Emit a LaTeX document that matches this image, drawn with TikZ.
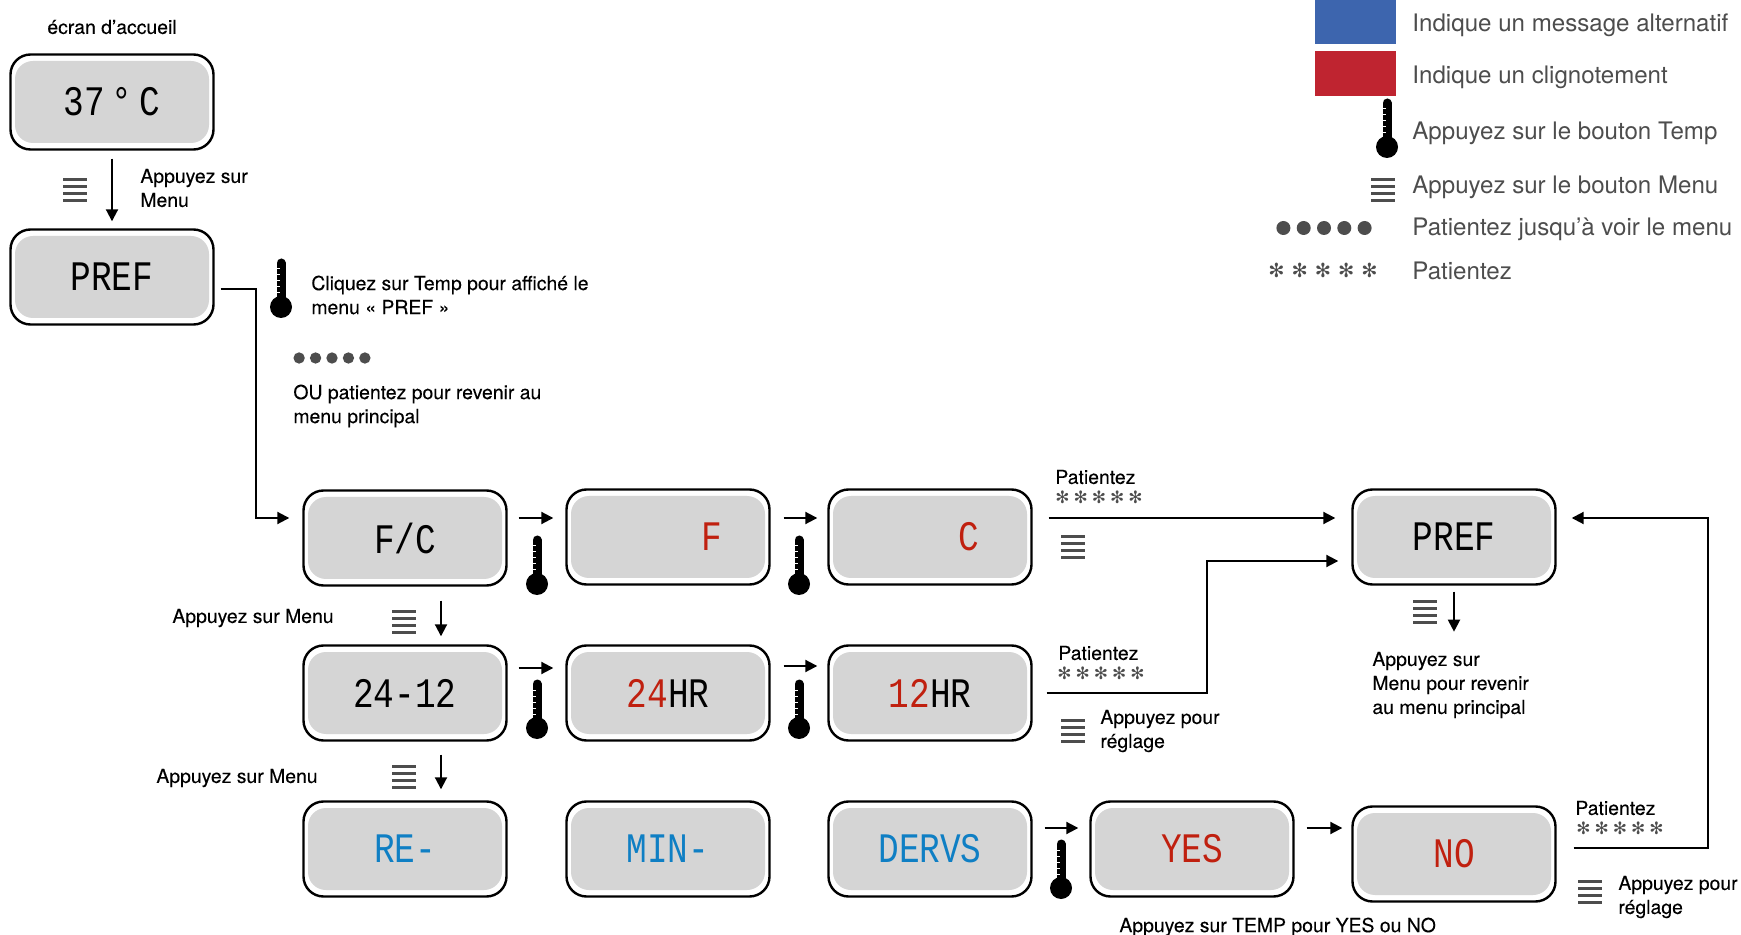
\documentclass[tikz,border=0pt]{standalone}
\usepackage{fontspec}
\setmainfont{TeX Gyre Heros}
\newfontfamily\notefont[FakeBold=0.12]{TeX Gyre Heros}
\newfontfamily\lcdfont[FakeStretch=0.82]{Liberation Mono}
\newfontfamily\dingfont{DejaVu Sans}
\usetikzlibrary{arrows.meta, positioning}
\definecolor{lcdgray}{HTML}{D5D5D5}
\definecolor{lcdred}{HTML}{C0200F}
\definecolor{lcdblue}{HTML}{0F7FC4}
\definecolor{keygray}{HTML}{4D4D4D}
\definecolor{altblue}{HTML}{3D65AE}
\definecolor{altred}{HTML}{BF2430}
\newcommand{\starrow}[1]{✻\kern#1✻\kern#1✻\kern#1✻\kern#1✻}

\tikzset{
	lcd/.style={draw=black, line width=1.2pt, fill=white, rounded corners=10pt, minimum width=101.5pt, minimum height=47.5pt, inner sep=0pt},
	screen/.style={fill=lcdgray, rounded corners=9pt, minimum width=97pt, minimum height=41pt, inner sep=0pt, font=\lcdfont\fontsize{21}{21}\selectfont},
	flow/.style={line width=1pt, -{Triangle[length=6pt, width=6pt]}},
	note/.style={anchor=west, align=left, inner sep=0pt, font=\notefont\fontsize{9.7}{12}\selectfont},
	keytext/.style={anchor=west, inner sep=0pt, text=keygray, font=\fontsize{12.05}{12}\selectfont},
	stars/.style={inner sep=0pt, text=keygray, font=\dingfont\fontsize{8.5}{8.5}\selectfont},
	thermo/.pic={
		\fill[black] (0,0) circle (11);
		\draw[black, line width=4.5pt, line cap=round] (0,0) -- (0,-44);
		\draw[white, line width=.5pt] (-4.5,-38) -- ++(3,0) (-4.5,-32) -- ++(3,0) (-4.5,-26) -- ++(3,0) (-4.5,-20) -- ++(3,0) (-4.5,-14) -- ++(3,0);
	},
	menukey/.pic={
		\draw[keygray, line width=1.5pt] (-12,-10.5) -- (12,-10.5) (-12,-3.5) -- (12,-3.5) (-12,3.5) -- (12,3.5) (-12,10.5) -- (12,10.5);
	},
	dots/.pic={
		\fill[keygray] (-40.6,0) circle (7) (-20.3,0) circle (7) (0,0) circle (7) (20.3,0) circle (7) (40.6,0) circle (7);
	},
}

\begin{document}
\begin{tikzpicture}[x=0.5pt, y=-0.5pt]
	\useasboundingbox (0,0) rectangle (1741,935);
	
	% légende
	\fill[altblue] (1315,0) rectangle (1396,44);
	\fill[altred] (1315,51) rectangle (1396,96);
	\pic (keytemp) at (1387,147) {thermo};
	\pic (keymenu) at (1383,190) {menukey};
	\pic (keydots) at (1324,228) {dots};
	\node[stars, font=\dingfont\fontsize{9.7}{9.7}\selectfont] (keystars) at (1323,270) {\starrow{3.5pt}};
	\node[keytext] (k1) at (1412,25) {Indique un message alternatif};
	\node[keytext] (k2) at (1412,77) {Indique un clignotement};
	\node[keytext] (k3) at (1412,133) {Appuyez sur le bouton Temp};
	\node[keytext] (k4) at (1412,187) {Appuyez sur le bouton Menu};
	\node[keytext] (k5) at (1412,229) {Patientez jusqu’à voir le menu};
	\node[keytext] (k6) at (1412,271) {Patientez};
	
	% écrans
	\node[lcd, label={[screen]center:{37\,°\,C}}] (home) at (112,102) {};
	\node[lcd, label={[screen]center:{PREF}}] (pref) at (112,277) {};
	\node[lcd, label={[screen]center:{F/C}}] (fc) at (405,538) {};
	\node[lcd, label={[screen, text=lcdred]center:{\hspace*{44pt}F}}] (unitf) at (668,537) {};
	\node[lcd, label={[screen, text=lcdred]center:{\hspace*{39pt}C}}] (unitc) at (930,537) {};
	\node[lcd, label={[screen]center:{PREF}}] (prefback) at (1454,537) {};
	\node[lcd, label={[screen]center:{24-12}}] (clock) at (405,693) {};
	\node[lcd, label={[screen]center:{\textcolor{lcdred}{24}HR}}] (hr24) at (668,693) {};
	\node[lcd, label={[screen]center:{\textcolor{lcdred}{12}HR}}] (hr12) at (930,693) {};
	\node[lcd, label={[screen, text=lcdblue]center:{RE-}}] (re) at (405,849) {};
	\node[lcd, label={[screen, text=lcdblue]center:{MIN-}}] (mins) at (668,849) {};
	\node[lcd, label={[screen, text=lcdblue]center:{DERVS}}] (dervs) at (930,849) {};
	\node[lcd, label={[screen, text=lcdred]center:{YES}}] (yes) at (1192,849) {};
	\node[lcd, label={[screen, text=lcdred]center:{NO}}] (no) at (1454,854) {};
	
	% flèches
	\draw[flow, shorten <=4pt, shorten >=3.5pt] (home) -- (pref);
	\draw[flow] ([shift={(6,12)}]pref.east) -- ++(35,0) |- ([shift={(-13,-20)}]fc.west);
	\draw[flow] ([shift={(11,-20)}]fc.east) -- ([shift={(-12,-19)}]unitf.west);
	\draw[flow] ([shift={(13,-19)}]unitf.east) -- ([shift={(-10,-19)}]unitc.west);
	\draw[flow] ([shift={(16,-19)}]unitc.east) -- ([shift={(-16,-19)}]prefback.west);
	\draw[flow] ([shift={(36,14)}]fc.south) -- ([shift={(36,-8)}]clock.north);
	\draw[flow] ([shift={(11,-25)}]clock.east) -- ([shift={(-12,-25)}]hr24.west);
	\draw[flow] ([shift={(13,-27)}]hr24.east) -- ([shift={(-10,-27)}]hr12.west);
	\draw[flow] ([shift={(14,0)}]hr12.east) -- ++(160,0) |- ([shift={(-13,24)}]prefback.west);
	\draw[flow] ([shift={(36,13)}]clock.south) -- ([shift={(36,-11)}]re.north);
	\coordinate (down) at ([shift={(0,46)}]prefback.south);
	\draw[flow] ([shift={(0,6)}]prefback.south) -- (down);
	\draw[flow] ([shift={(12,-21)}]dervs.east) -- ([shift={(-11,-21)}]yes.west);
	\draw[flow] ([shift={(12,-21)}]yes.east) -- ([shift={(-9,-26)}]no.west);
	\draw[flow] ([shift={(17,-6)}]no.east) -- ++(134,0) |- ([shift={(15,-19)}]prefback.east);
	
	% icônes
	\pic (m1) at (75,190) {menukey};
	\pic (t1) at (281,307) {thermo};
	\pic[scale=.81] (d1) at (332,358) {dots};
	\pic (t2) at (537,584) {thermo};
	\pic (t3) at (799,584) {thermo};
	\pic (m2) at (1073,547) {menukey};
	\pic (m3) at (404,622) {menukey};
	\pic (m4) at (1425,612) {menukey};
	\pic (t4) at (537,728) {thermo};
	\pic (t5) at (799,728) {thermo};
	\pic (m5) at (1073,731) {menukey};
	\pic (m6) at (404,777) {menukey};
	\pic (t6) at (1061,888) {thermo};
	\pic (m7) at (1590,892) {menukey};
	\node[stars] (s1) at (1099,497) {\starrow{2pt}};
	\node[stars] (s2) at (1101,673) {\starrow{2pt}};
	\node[stars] (s3) at (1620,828) {\starrow{2pt}};
	
	% textes
	\node[note] (n1) at (47,27) {écran d’accueil};
	\node[note] (n2) at (140,188) {Appuyez sur\\Menu};
	\node[note] (n3) at (311,295) {Cliquez sur Temp pour affiché le\\menu « PREF »};
	\node[note] (n4) at (293,406) {OU patientez pour revenir au\\menu principal};
	\node[note] (n5) at (1055,477) {Patientez};
	\node[note] (n6) at (172,618) {Appuyez sur Menu};
	\node[note] (n7) at (1058,653) {Patientez};
	\node[note] (n8) at (1100,731) {Appuyez pour\\réglage};
	\node[note] (n9) at (156,778) {Appuyez sur Menu};
	\node[note] (n10) at (1372,685) {Appuyez sur\\Menu pour revenir\\au menu principal};
	\node[note] (n11) at (1575,808) {Patientez};
	\node[note] (n12) at (1618,897) {Appuyez pour\\réglage};
	\node[note] (n13) at (1119,927) {Appuyez sur TEMP pour YES ou NO};
\end{tikzpicture}
\end{document}
